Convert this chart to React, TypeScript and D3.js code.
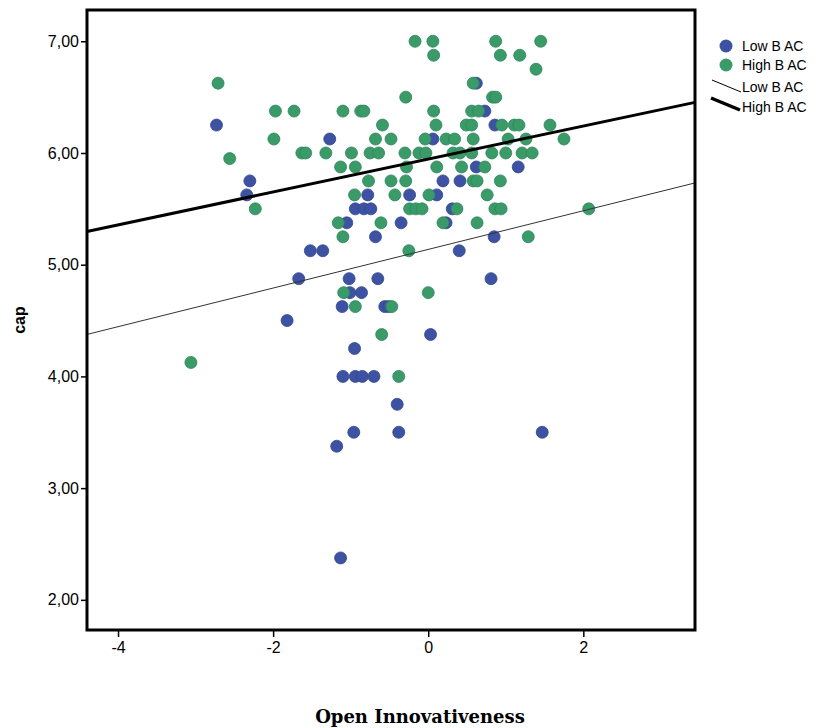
import React, { useEffect, useRef } from "react";
import { select, scaleLinear, axisLeft, axisBottom, formatLocale } from "d3";

// Low B AC group: [Open Innovativeness, cap]
const lowBAC: [number, number][] = [
  [-2.73, 6.25], [0.62, 6.625], [0.73, 6.375], [0.86, 6.25], [-1.27, 6.125],
  [0.06, 6.125], [0.62, 5.875], [1.16, 5.875], [-2.3, 5.75], [0.19, 5.75],
  [0.41, 5.75], [-2.34, 5.625], [-0.78, 5.625], [-0.24, 5.625], [0.11, 5.625],
  [-0.94, 5.5], [-0.83, 5.5], [-0.74, 5.5], [0.31, 5.5], [-1.05, 5.375],
  [-0.35, 5.375], [0.23, 5.375], [-0.68, 5.25], [0.85, 5.25], [-1.52, 5.125],
  [-1.36, 5.125], [0.4, 5.125], [-1.67, 4.875], [-1.02, 4.875], [-0.65, 4.875],
  [0.81, 4.875], [-1.01, 4.75], [-0.86, 4.75], [-1.11, 4.625], [-0.56, 4.625],
  [-0.51, 4.625], [-1.82, 4.5], [0.03, 4.375], [-0.95, 4.25], [-1.1, 4.0],
  [-0.94, 4.0], [-0.85, 4.0], [-0.7, 4.0], [-0.4, 3.75], [-0.96, 3.5],
  [-0.38, 3.5], [1.47, 3.5], [-1.18, 3.375], [-1.13, 2.375],
];

// High B AC group
const highBAC: [number, number][] = [
  [-0.17, 7], [0.06, 7], [0.87, 7], [1.45, 7],
  [0.07, 6.875], [0.93, 6.875], [1.18, 6.875],
  [1.39, 6.75],
  [-2.71, 6.625], [0.58, 6.625],
  [-0.29, 6.5], [0.83, 6.5], [0.87, 6.5],
  [-1.97, 6.375], [-1.73, 6.375], [-1.1, 6.375], [-0.87, 6.375], [-0.83, 6.375],
  [0.07, 6.375], [0.56, 6.375], [0.65, 6.375],
  [-0.59, 6.25], [0.1, 6.25], [0.49, 6.25], [0.56, 6.25], [0.95, 6.25],
  [1.11, 6.25], [1.17, 6.25], [1.57, 6.25],
  [-1.99, 6.125], [-0.68, 6.125], [-0.48, 6.125], [-0.04, 6.125], [0.23, 6.125],
  [0.34, 6.125], [0.58, 6.125], [1.03, 6.125], [1.26, 6.125], [1.75, 6.125],
  [-1.63, 6], [-1.58, 6], [-1.32, 6], [-0.99, 6], [-0.75, 6], [-0.64, 6],
  [-0.3, 6], [-0.12, 6], [-0.03, 6], [0.32, 6], [0.41, 6], [0.56, 6],
  [0.82, 6], [1.0, 6], [1.21, 6], [1.34, 6],
  [-2.56, 5.95],
  [-1.13, 5.875], [-0.94, 5.875], [-0.28, 5.875], [0.11, 5.875], [0.43, 5.875], [0.73, 5.875],
  [-0.77, 5.75], [-0.48, 5.75], [-0.29, 5.75], [0.58, 5.75], [0.63, 5.75], [0.93, 5.75],
  [-0.95, 5.625], [-0.43, 5.625], [0.01, 5.625], [0.76, 5.625],
  [-2.23, 5.5], [-0.24, 5.5], [-0.16, 5.5], [-0.08, 5.5], [0.37, 5.5],
  [0.86, 5.5], [0.94, 5.5], [2.07, 5.5],
  [-1.16, 5.375], [-0.61, 5.375], [0.19, 5.375], [0.63, 5.375],
  [-1.1, 5.25], [1.29, 5.25],
  [-0.25, 5.125],
  [-1.09, 4.75], [0.0, 4.75],
  [-0.94, 4.625], [-0.47, 4.625],
  [-0.6, 4.375],
  [-3.06, 4.125],
  [-0.38, 4.0],
];

// fit lines: [intercept, slope]
const lowFit = [5.137, 0.173];
const highFit = [5.946, 0.1474];

const xTicks = [-4, -2, 0, 2];
const yTicks = [2, 3, 4, 5, 6, 7];
const legendNames = ["Low B AC", "High B AC"];

const BLUE = "#3d52a2";
const GREEN = "#3a9a68";
const SANS = "'Liberation Sans', Arial, sans-serif";

function App() {
  const svgRef = useRef<SVGSVGElement>(null);

  useEffect(() => {
    const svg = select(svgRef.current);
    svg.selectAll("*").remove();

    const left = 87, right = 695, top = 10, bottom = 630;
    const x = scaleLinear().domain([-4.4, 3.44]).range([left, right]);
    const y = scaleLinear().domain([1.73, 7.28]).range([bottom, top]);

    const fmt = formatLocale({ decimal: ",", thousands: ".", grouping: [3], currency: ["", ""] }).format(".2f");

    // axes
    const yAxis = svg.append("g")
      .attr("transform", `translate(${left},0)`)
      .call(axisLeft(y).tickValues(yTicks).tickFormat((d: any) => fmt(d)).tickSize(6).tickPadding(2));
    const xAxis = svg.append("g")
      .attr("transform", `translate(0,${bottom})`)
      .call(axisBottom(x).tickValues(xTicks).tickFormat((d: any) => String(d)).tickSize(7).tickPadding(5));
    [xAxis, yAxis].forEach(a => {
      a.select(".domain").remove();
      a.selectAll("line").attr("stroke", "#000").attr("stroke-width", 1.5);
      a.selectAll("text")
        .attr("fill", "#000")
        .attr("font-family", SANS)
        .attr("font-size", 16);
    });

    // points
    const drawPts = (pts: [number, number][], color: string) => {
      svg.append("g")
        .selectAll("circle")
        .data(pts)
        .join("circle")
        .attr("cx", d => x(d[0]))
        .attr("cy", d => y(d[1]))
        .attr("r", 6)
        .attr("fill", color)
        .attr("stroke", color === BLUE ? "#34478f" : "#2f855a")
        .attr("stroke-width", 0.8);
    };
    drawPts(lowBAC, BLUE);
    drawPts(highBAC, GREEN);

    // fit lines
    const [x0, x1] = x.domain();
    const fitLine = (fit: number[], w: number, color: string) => {
      svg.append("line")
        .attr("x1", x(x0)).attr("y1", y(fit[0] + fit[1] * x0))
        .attr("x2", x(x1)).attr("y2", y(fit[0] + fit[1] * x1))
        .attr("stroke", color)
        .attr("stroke-width", w);
    };
    fitLine(lowFit, 1, "#333");
    fitLine(highFit, 3, "#000");

    // frame
    svg.append("rect")
      .attr("x", left).attr("y", top)
      .attr("width", right - left).attr("height", bottom - top)
      .attr("fill", "none")
      .attr("stroke", "#000")
      .attr("stroke-width", 3);

    // legend
    const lg = svg.append("g")
      .attr("font-family", SANS)
      .attr("font-size", 14);
    [BLUE, GREEN].forEach((c, i) => {
      lg.append("circle").attr("cx", 726).attr("cy", 46 + i * 19).attr("r", 6.5).attr("fill", c);
      lg.append("text").attr("x", 742).attr("y", 46 + i * 19).attr("dy", "0.35em").text(legendNames[i]);
    });
    lg.append("line").attr("x1", 712).attr("y1", 80).attr("x2", 741).attr("y2", 92)
      .attr("stroke", "#000").attr("stroke-width", 1);
    lg.append("text").attr("x", 742).attr("y", 87).attr("dy", "0.35em").text(legendNames[0]);
    lg.append("line").attr("x1", 711).attr("y1", 98).attr("x2", 740).attr("y2", 110)
      .attr("stroke", "#000").attr("stroke-width", 3.5);
    lg.append("text").attr("x", 742).attr("y", 107).attr("dy", "0.35em").text(legendNames[1]);

    // titles
    svg.append("text")
      .attr("transform", "translate(25,320) rotate(-90)")
      .attr("text-anchor", "middle")
      .attr("font-family", SANS)
      .attr("font-size", 16)
      .attr("font-weight", "bold")
      .text("cap");
    svg.append("text")
      .attr("x", 420).attr("y", 723)
      .attr("text-anchor", "middle")
      .attr("font-family", "'DejaVu Serif', serif")
      .attr("font-size", 18)
      .attr("font-weight", "bold")
      .text("Open Innovativeness");
  }, []);

  return (
    <div style={{ position: "absolute", left: 0, top: 0, background: "#fff" }}>
      <svg ref={svgRef} width={821} height={728} />
    </div>
  );
}

export default App;
